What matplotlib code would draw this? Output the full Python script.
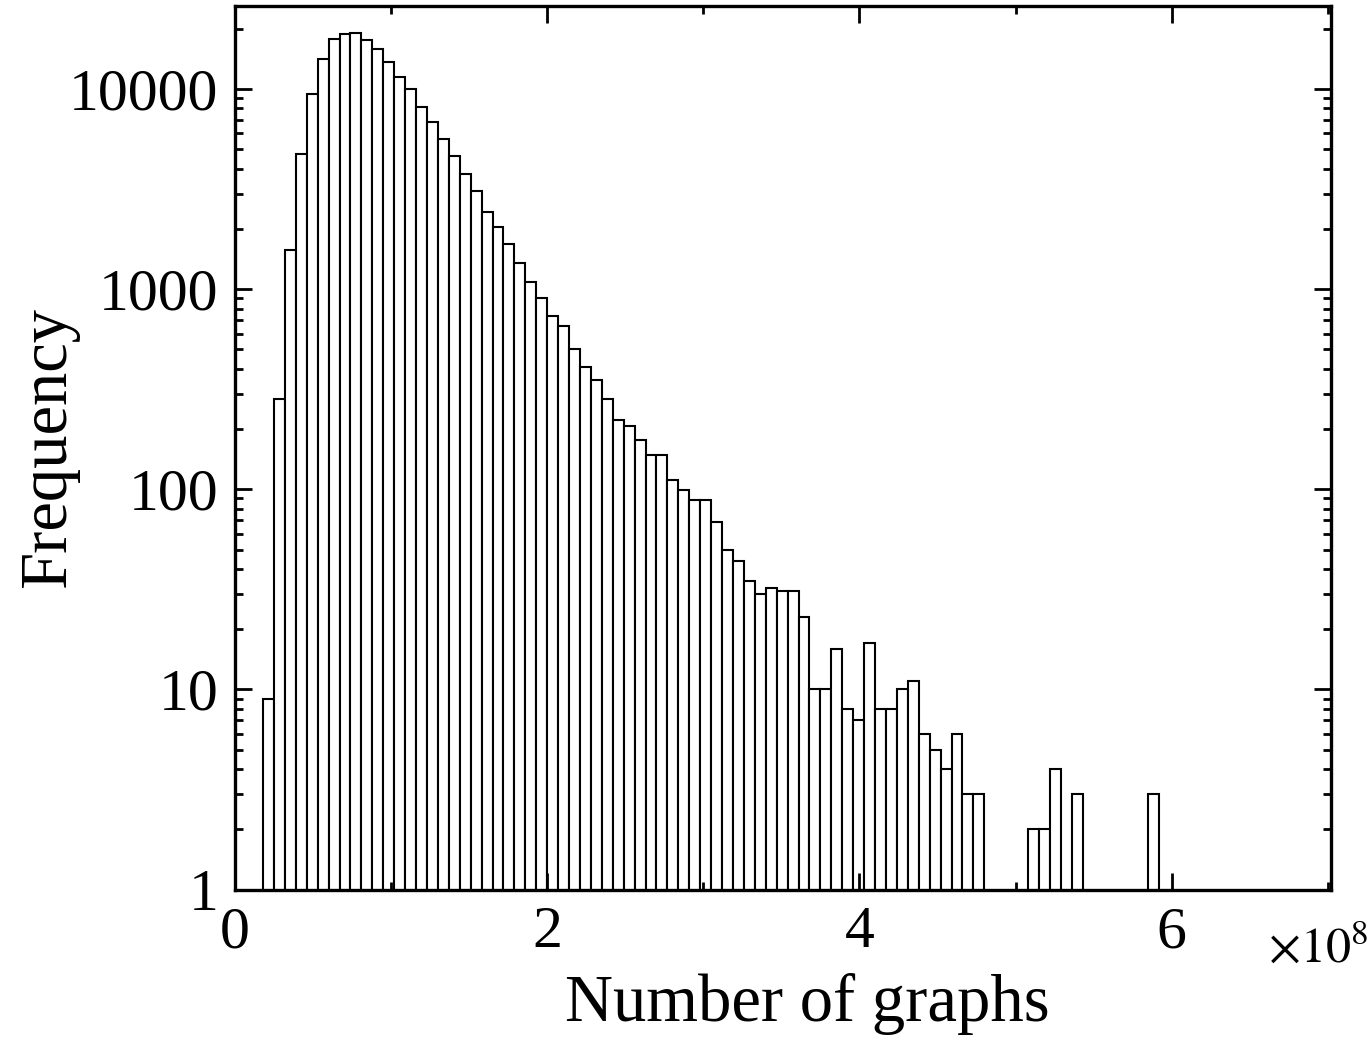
import numpy as np
import matplotlib
matplotlib.use("Agg")
import matplotlib.pyplot as plt
from matplotlib.ticker import MultipleLocator, FixedLocator, FuncFormatter, LogLocator, NullFormatter

# ---- data ----
bin_start = 1.794e7
bin_width = 7.0e6
counts = [9, 282, 1575, 4750, 9470, 14125, 17850, 18900, 19100, 17500,
          15850, 13580, 11480, 9950, 8155, 6840, 5625, 4640, 3760, 3100,
          2436, 2050, 1672, 1354, 1084, 905, 736, 656, 505, 408,
          352, 283, 223, 206, 177, 148, 148, 111, 99, 88,
          88, 69, 50, 44, 35, 30, 32, 31, 31, 23,
          10, 10, 16, 8, 7, 17, 8, 8, 10, 11,
          6, 5, 4, 6, 3, 3, 0, 0, 0, 0,
          2, 2, 4, 0, 3, 0, 0, 0, 0, 0,
          0, 3]
x_ticks = [0, 2e8, 4e8, 6e8]
y_ticks = [1, 10, 100, 1000, 10000]

plt.rcParams['font.family'] = ['Liberation Serif', 'DejaVu Serif']
plt.rcParams['mathtext.fontset'] = 'stix'

fig = plt.figure(figsize=(13.69, 10.46), dpi=100)
ax = fig.add_axes([0.1717, 0.1496, 0.9722 - 0.1717, 0.9943 - 0.1496])

counts = np.array(counts, dtype=float)
edges = bin_start + bin_width * np.arange(len(counts) + 1)
mask = counts > 0
ax.set_yscale('log', nonpositive='clip')
ax.bar(edges[:-1][mask], counts[mask], width=bin_width, align='edge',
       facecolor='white', edgecolor='black', linewidth=1.5)

ax.set_ylim(1, 26000)
ax.set_xlim(0, 7.02e8)

ax.xaxis.set_major_locator(FixedLocator(x_ticks))
ax.xaxis.set_minor_locator(MultipleLocator(1e8))
ax.xaxis.set_major_formatter(FuncFormatter(lambda v, p: f"{v/1e8:g}"))
ax.yaxis.set_major_locator(FixedLocator(y_ticks))
ax.yaxis.set_minor_locator(LogLocator(base=10, subs=np.arange(2, 10)))
ax.yaxis.set_minor_formatter(NullFormatter())
ax.yaxis.set_major_formatter(FuncFormatter(lambda v, p: f"{int(round(v))}"))

for s in ax.spines.values():
    s.set_linewidth(2.4)

ax.tick_params(which='both', direction='in', top=True, right=True, width=2.0)
ax.tick_params(which='major', length=12, labelsize=43)
ax.tick_params(which='minor', length=6)
ax.tick_params(axis='x', which='major', pad=12)
ax.tick_params(axis='y', which='major', pad=12)

ax.set_xlabel('Number of graphs', fontsize=48, labelpad=9, x=0.522, ha='center')
ax.set_ylabel('Frequency', fontsize=48, labelpad=-7)

ax.text(0.943, -0.0817, r'$\times10^{8}$', transform=ax.transAxes,
        ha='left', va='baseline', fontsize=36)

fig.savefig('out.png', dpi=100)
